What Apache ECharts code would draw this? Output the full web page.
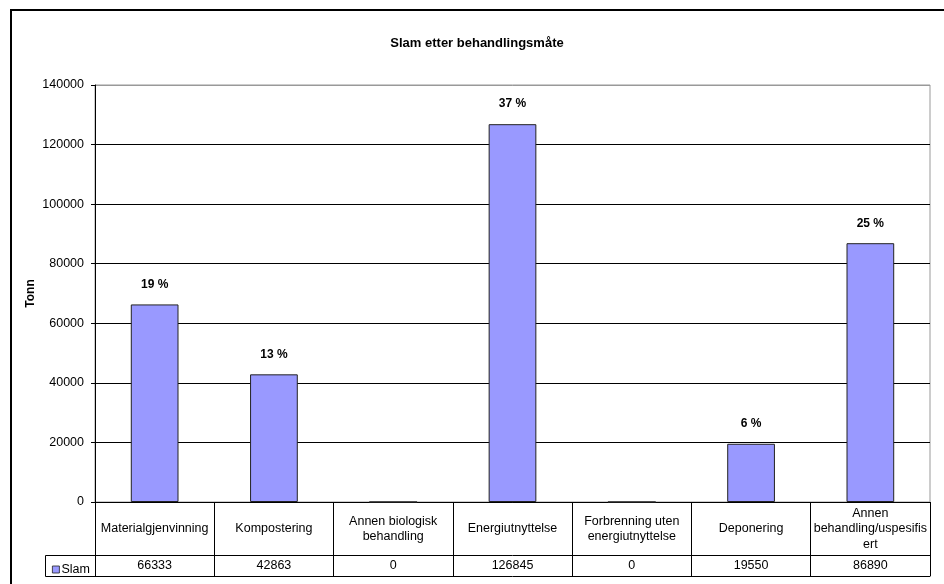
<!DOCTYPE html>
<html>
<head>
<meta charset="utf-8">
<script src="https://cdn.jsdelivr.net/npm/echarts@6/dist/echarts.min.js"></script>
<style>
  html, body { margin: 0; padding: 0; background: #fff; }
  #chart { width: 944px; height: 584px; }
</style>
</head>
<body>
<div id="chart"></div>
<script>
// behandlingsmåter (kategorier) og etiketter slik de står i tabellen
const categories = [
  "Materialgjenvinning",
  "Kompostering",
  "Annen biologisk behandling",
  "Energiutnyttelse",
  "Forbrenning uten energiutnyttelse",
  "Deponering",
  "Annen behandling/uspesifisert",
];
const categoryLabels = [
  "Materialgjenvinning",
  "Kompostering",
  "Annen biologisk\nbehandling",
  "Energiutnyttelse",
  "Forbrenning uten\nenergiutnyttelse",
  "Deponering",
  "Annen\nbehandling/uspesifis\nert",
];
const slamValues = [66333, 42863, 0, 126845, 0, 19550, 86890];
const shareLabels = ["19 %", "13 %", "", "37 %", "", "6 %", "25 %"];
const yTicks = { min: 0, max: 140000, interval: 20000 };

const font = "'Liberation Sans', Arial, sans-serif";
const fs = 12.5;
const chart = echarts.init(document.getElementById("chart"));

const option = {
  animation: false,
  textStyle: { fontFamily: font },
  title: {
    text: "Slam etter behandlingsmåte",
    left: 472,
    textAlign: "center",
    top: 32,
    textStyle: { fontSize: 13, fontWeight: "bold", color: "#000", fontFamily: font },
  },
  grid: {
    left: 95,
    right: 14,
    top: 85,
    bottom: 82,
    show: true,
    borderColor: "#999",
    borderWidth: 1,
    containLabel: false,
  },
  legend: {
    left: 47,
    top: 558,
    icon: "rect",
    itemWidth: 7,
    itemHeight: 7,
    itemGap: 2,
    itemStyle: { borderWidth: 0.8, borderColor: "#222" },
    textStyle: { fontSize: fs, color: "#000", fontFamily: font, padding: [0, 0, 0, -3] },
    data: ["Slam"],
  },
  xAxis: [
    {
      type: "category",
      data: categories,
      axisLine: { show: true, lineStyle: { color: "#000", width: 1 } },
      axisTick: { show: true, interval: 0, length: 74, lineStyle: { color: "#000" } },
      axisLabel: {
        interval: 0,
        margin: 27,
        verticalAlign: "middle",
        fontSize: fs,
        lineHeight: 15.5,
        color: "#000",
        fontFamily: font,
        formatter: (v, i) => categoryLabels[i],
      },
      splitLine: { show: false },
    },
    {
      type: "category",
      data: categories,
      position: "bottom",
      offset: 53,
      axisLine: { show: true, lineStyle: { color: "#000", width: 1 } },
      axisTick: { show: false },
      axisLabel: {
        interval: 0,
        margin: 11,
        verticalAlign: "middle",
        fontSize: fs,
        color: "#000",
        fontFamily: font,
        formatter: (v, i) => String(slamValues[i]),
      },
    },
    {
      type: "category",
      data: categories,
      position: "bottom",
      offset: 74,
      axisLine: { show: true, lineStyle: { color: "#000", width: 1 } },
      axisTick: { show: false },
      axisLabel: { show: false },
    },
  ],
  yAxis: {
    type: "value",
    min: yTicks.min,
    max: yTicks.max,
    interval: yTicks.interval,
    name: "Tonn",
    nameLocation: "middle",
    nameGap: 58,
    nameMoveOverlap: false,
    nameTextStyle: { fontSize: 12, fontWeight: "bold", color: "#000", fontFamily: font },
    axisLine: { show: true, lineStyle: { color: "#000" } },
    axisTick: { show: true, length: 4, lineStyle: { color: "#000" } },
    axisLabel: {
      margin: 11,
      fontSize: fs,
      color: "#000",
      fontFamily: font,
      formatter: (v) => String(v),
    },
    splitLine: {
      show: true,
      lineStyle: { color: ["#000", "#000", "#000", "#000", "#000", "#000", "#000", "#999"], width: 1 },
    },
  },
  series: [
    {
      name: "Slam",
      type: "bar",
      barWidth: "40%",
      data: slamValues,
      itemStyle: { color: "#9999FF", borderColor: "#222", borderWidth: 1 },
      label: {
        show: true,
        position: "top",
        distance: 14,
        fontSize: 12,
        fontWeight: "bold",
        color: "#000",
        fontFamily: font,
        formatter: (p) => shareLabels[p.dataIndex],
      },
    },
  ],
  graphic: [
    // ramme rundt hele diagrammet
    {
      type: "rect",
      shape: { x: 11, y: 10, width: 1000, height: 1000 },
      style: { fill: "none", stroke: "#000", lineWidth: 2 },
      silent: true,
    },
    // celle for forklaringen i datatabellen
    {
      type: "rect",
      shape: { x: 45.5, y: 555.5, width: 50, height: 21 },
      style: { fill: "none", stroke: "#000", lineWidth: 1 },
      silent: true,
    },
  ],
};

chart.setOption(option);
</script>
</body>
</html>
